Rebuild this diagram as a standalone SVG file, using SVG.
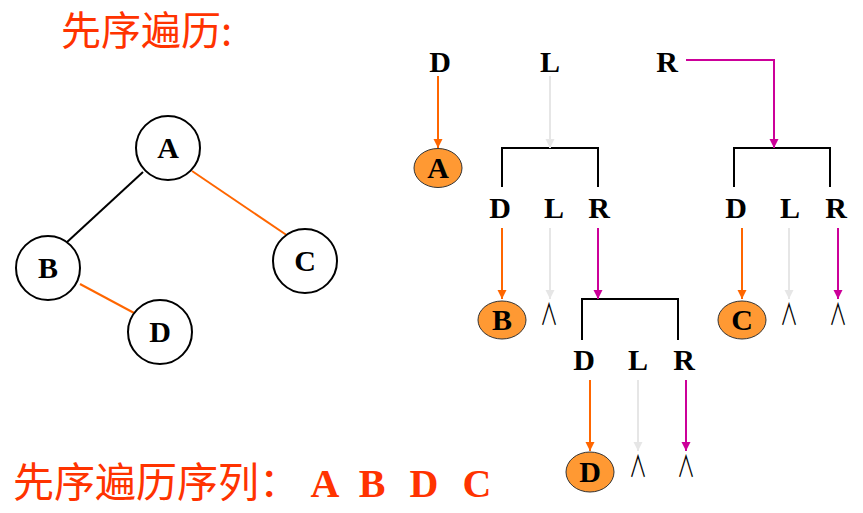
<svg xmlns="http://www.w3.org/2000/svg" width="863" height="513" viewBox="0 0 863 513">
<style>
.cjk{font-family:"Noto Sans CJK SC","Noto Sans",sans-serif;fill:#FF3300}
.lab{font-family:"Liberation Serif","Times New Roman",serif;font-weight:bold;font-size:30px;fill:#000;text-anchor:middle}
.nl{font-family:"Liberation Serif","Times New Roman",serif;font-weight:bold;font-size:30px;fill:#000;text-anchor:middle}
.nil{font-family:"Noto Sans CJK SC","DejaVu Sans",sans-serif;font-weight:400;font-size:24px;fill:#000;text-anchor:middle}
.res{font-family:"Liberation Serif","Times New Roman",serif;font-weight:bold;font-size:40px;fill:#FF3300;text-anchor:middle}
.circ{fill:#fff;stroke:#000;stroke-width:2}
.ell{fill:#FF9933;stroke:#333;stroke-width:1}
.br{fill:none;stroke:#000;stroke-width:2}
.ao{stroke:#FF6600;stroke-width:2;fill:none;marker-end:url(#mo)}
.ag{stroke:#E6E6E6;stroke-width:2;fill:none;marker-end:url(#mg)}
.am{stroke:#CC0099;stroke-width:2;fill:none;marker-end:url(#mm)}
</style>
<defs>
<marker id="mo" markerUnits="userSpaceOnUse" markerWidth="10" markerHeight="10" refX="9" refY="4.5" orient="auto"><path d="M0,0 L9,4.5 L0,9 z" fill="#FF6600"/></marker>
<marker id="mg" markerUnits="userSpaceOnUse" markerWidth="10" markerHeight="10" refX="9" refY="4.5" orient="auto"><path d="M0,0 L9,4.5 L0,9 z" fill="#E6E6E6"/></marker>
<marker id="mm" markerUnits="userSpaceOnUse" markerWidth="10" markerHeight="10" refX="9" refY="4.5" orient="auto"><path d="M0,0 L9,4.5 L0,9 z" fill="#CC0099"/></marker>
</defs>
<rect width="863" height="513" fill="#fff"/>
<text id="title" class="cjk" x="61" y="45" font-size="40">先序遍历:</text>
<g id="edges">
<line x1="143" y1="172" x2="66" y2="243" stroke="#000" stroke-width="2"/>
<line x1="192" y1="171" x2="288" y2="236" stroke="#FF6600" stroke-width="2"/>
<line x1="80" y1="284" x2="136" y2="314" stroke="#FF6600" stroke-width="2"/>
</g>
<g id="tA"><circle class="circ" cx="168" cy="148" r="32"/><text class="nl" x="168" y="158">A</text></g>
<g id="tB"><circle class="circ" cx="48" cy="268" r="32"/><text class="nl" x="48" y="278">B</text></g>
<g id="tC"><circle class="circ" cx="305" cy="261" r="32"/><text class="nl" x="305" y="271">C</text></g>
<g id="tD"><circle class="circ" cx="160" cy="332" r="32"/><text class="nl" x="160" y="342">D</text></g>
<g id="labels">
<text class="lab" x="440" y="72">D</text>
<text class="lab" x="550" y="72">L</text>
<text class="lab" x="667" y="72">R</text>
<text class="lab" x="500" y="218">D</text>
<text class="lab" x="554" y="218">L</text>
<text class="lab" x="599" y="218">R</text>
<text class="lab" x="736" y="218">D</text>
<text class="lab" x="790" y="218">L</text>
<text class="lab" x="836" y="218">R</text>
<text class="lab" x="584" y="370">D</text>
<text class="lab" x="638" y="370">L</text>
<text class="lab" x="684" y="370">R</text>
</g>
<g id="brackets">
<path class="br" d="M502,187 V148 H598 V187"/>
<path class="br" d="M734,187 V148 H830 V187"/>
<path class="br" d="M582,340 V299 H678 V340"/>
</g>
<g id="connectors">
<line class="ao" x1="438" y1="76" x2="438" y2="148"/>
<line class="ag" x1="550" y1="76" x2="550" y2="148"/>
<path class="am" d="M686,60 H774 V148"/>
<line class="ao" x1="502" y1="228" x2="502" y2="299"/>
<line class="ag" x1="550" y1="228" x2="550" y2="299"/>
<line class="am" x1="598" y1="228" x2="598" y2="299"/>
<line class="ao" x1="742" y1="228" x2="742" y2="299"/>
<line class="ag" x1="789" y1="228" x2="789" y2="299"/>
<line class="am" x1="838" y1="228" x2="838" y2="299"/>
<line class="ao" x1="590" y1="380" x2="590" y2="451"/>
<line class="ag" x1="638" y1="380" x2="638" y2="451"/>
<line class="am" x1="686" y1="380" x2="686" y2="451"/>
</g>
<g id="nA"><ellipse class="ell" cx="438" cy="168" rx="24" ry="19.5"/><text class="nl" x="438" y="178">A</text></g>
<g id="nB"><ellipse class="ell" cx="502" cy="320" rx="24" ry="19"/><text class="nl" x="502" y="330">B</text></g>
<g id="nC"><ellipse class="ell" cx="742" cy="320" rx="24" ry="19"/><text class="nl" x="742" y="330">C</text></g>
<g id="nD"><ellipse class="ell" cx="590" cy="472" rx="24" ry="20"/><text class="nl" x="590" y="482">D</text></g>
<g id="nil">
<text class="nil" transform="translate(549,325) scale(0.75,1.25)">∧</text>
<text class="nil" transform="translate(789,325) scale(0.75,1.25)">∧</text>
<text class="nil" transform="translate(838,325) scale(0.75,1.25)">∧</text>
<text class="nil" transform="translate(638,477) scale(0.75,1.25)">∧</text>
<text class="nil" transform="translate(686,477) scale(0.75,1.25)">∧</text>
</g>
<g id="result">
<text class="cjk" x="13" y="497" font-size="41">先序遍历序列：</text>
<text class="res" x="325" y="497">A</text>
<text class="res" x="372" y="497">B</text>
<text class="res" x="424" y="497">D</text>
<text class="res" x="477" y="497">C</text>
</g>
</svg>
